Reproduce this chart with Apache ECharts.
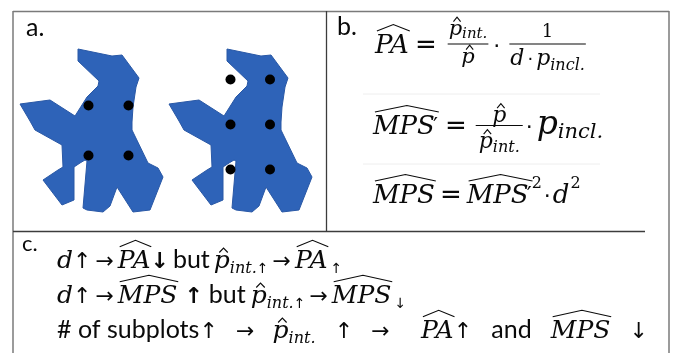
<!DOCTYPE html>
<html>
<head>
<meta charset="utf-8">
<script src="https://cdn.jsdelivr.net/npm/echarts@6/dist/echarts.min.js"></script>
<style>
  html, body { margin: 0; padding: 0; background: #ffffff; }
  #chart { width: 675px; height: 353px; }
</style>
</head>
<body>
<div id="chart"></div>
<script>
// ---- data ---------------------------------------------------------------
// Outline of the stand (same shape for both sampling designs), in page units
const standOutline = [
  [78, 49], [112, 56], [122, 55], [139, 78], [136, 87], [133, 107], [132, 122],
  [132, 130], [148, 163], [158, 168], [163, 177], [150, 210], [133, 212],
  [117, 187], [110, 206], [103, 212], [87, 210], [83, 208], [87, 161], [85, 160],
  [80, 163], [74, 167], [74, 200], [62, 205], [43, 180], [58, 170], [63, 167],
  [62, 145], [35, 130], [30, 121], [20, 104], [50, 100], [75, 116], [87, 97],
  [98, 86], [99, 81], [78, 61]
];
// Horizontal placement of the two copies of the stand
const standShiftX = [0, 149];
// Subplot centres: coarse grid (left) and denser grid (right)
const subplotsCoarse = [[88.5, 105.5], [128.5, 105.5], [88.5, 155.5], [128.5, 155.5]];
const subplotsDense = [[230.5, 79.5], [270, 79.5], [230.5, 124.5], [270, 124.5], [230.5, 169.5], [270, 169.5]];
const panelLabels = ['a.', 'b.', 'c.'];
const wordsC = ['but', 'but', '# of subplots', 'and'];

// ---- text layout helpers -------------------------------------------------
const INK = '#0a0a0a';
const ctx = document.createElement('canvas').getContext('2d');
function textW(s, f) { ctx.font = f; return ctx.measureText(s).width; }
const offCache = {};
function baseOff(f) {
  if (f in offCache) return offCache[f];
  ctx.font = f;
  ctx.textBaseline = 'alphabetic';
  const a = ctx.measureText('Hxp').actualBoundingBoxAscent;
  ctx.textBaseline = 'middle';
  const b = ctx.measureText('Hxp').actualBoundingBoxAscent;
  ctx.textBaseline = 'alphabetic';
  return (offCache[f] = a - b);
}
const G = [];
function putText(s, x, yb, f) {
  G.push({
    type: 'text', silent: true, z: 10,
    style: { text: s, x: x, y: yb - baseOff(f), font: f, fill: INK,
      textAlign: 'left', textVerticalAlign: 'middle', align: 'left', verticalAlign: 'middle' }
  });
}
function putLine(x1, y1, x2, y2, c, w) {
  G.push({ type: 'line', silent: true, z: 10, shape: { x1, y1, x2, y2 }, style: { stroke: c, lineWidth: w } });
}
function putHat(x0, x1, yTop, h, w) {
  G.push({
    type: 'polyline', silent: true, z: 10,
    shape: { points: [[x0, yTop + h], [(x0 + x1) / 2, yTop], [x1, yTop + h]] },
    style: { stroke: INK, lineWidth: w || 1.2, fill: null, lineJoin: 'miter' }
  });
}
// lay out a row of tokens from x on baseline yb; returns the width
// (stretch = extra width per unit added to the spaces marked j)
function run(items, x, yb, draw, stretch) {
  let cx = x;
  stretch = stretch || 0;
  for (const it of items) {
    if (it.g !== undefined) { cx += it.g + (it.j || 0) * stretch; continue; }
    if (it.hat) {
      const x0 = cx;
      cx += run(it.hat, cx, yb, draw);
      if (draw) putHat(x0 + it.sk + it.pl, cx + it.sk - it.pr, yb + it.top, it.h, it.lw);
      continue;
    }
    if (it.frac) {
      const wn = run(it.num, 0, 0, false), wd = run(it.den, 0, 0, false);
      const w = Math.max(wn, wd) + 2 * it.pad;
      if (draw) {
        putLine(cx, yb + it.bar, cx + w, yb + it.bar, INK, 1.1);
        run(it.num, cx + (w - wn) / 2, yb + it.nd, true);
        run(it.den, cx + (w - wd) / 2, yb + it.dd, true);
      }
      cx += w;
      continue;
    }
    if (draw) putText(it.s, cx, yb + (it.dy || 0), it.f);
    cx += textW(it.s, it.f);
  }
  return cx - x;
}
// justified line: widen the marked spaces so the line ends at xEnd
function runJustified(items, x, yb, xEnd) {
  const natural = run(items, x, yb, false, 0);
  const n = items.reduce((s, it) => s + (it.j || 0), 0);
  const extra = n ? Math.max(0, (xEnd - x - natural) / n) : 0;
  run(items, x, yb, true, extra);
}

const M = fs => 'italic ' + fs + 'px "DejaVu Serif"';
const R = fs => fs + 'px "DejaVu Serif"';
const OP = fs => fs + 'px "DejaVu Sans"';
const OPB = fs => 'bold ' + fs + 'px "DejaVu Sans"';
const SANS = fs => fs + 'px Lato';
const t = (s, f, dy) => ({ s, f, dy: dy || 0 });
const g = n => ({ g: n });
const sp = (n, k) => ({ g: n, j: k || 1 });
// wide hat over capital letters (optionally with a prime under the same hat)
function capHat(str, fs, prime) {
  const cap = 0.73 * fs;
  const body = [t(str, M(fs))];
  if (prime) { body.push(g(-2)); body.push(t('′', R(Math.round(fs * 0.85)), -1)); }
  return { hat: body, top: -(cap + 3 + 6.5), h: 6.5, sk: 0.1 * cap, pl: 0, pr: 1, lw: 1.15 };
}
// small hat over an italic p
function pHat(fs) {
  const xh = 0.52 * fs;
  return { hat: [t('p', M(fs))], top: -(xh + 2.5 + 4.5), h: 4.5, sk: 1, pl: 0.18 * fs, pr: 0.12 * fs, lw: 1.1 };
}
const frac = (num, den, nd, dd, bar, pad) => ({ frac: true, num, den, nd, dd, bar, pad: pad || 2 });

// ---- panel b: estimators --------------------------------------------------
const eqPA = [
  capHat('PA', 26), g(6), t('=', OP(26)), g(11),
  frac([pHat(21), t('int.', M(15), 3)], [pHat(21)], -18, 10, -9, 1),
  g(5), t('·', OP(22)), g(9),
  frac([t('1', R(18))], [t('d', M(22)), g(3), t('·', OP(18)), g(3), t('p', M(22)), t('incl.', M(16), 5)], -16, 12, -9, 1)
];
const eqMPSp = [
  capHat('MPS', 26, true), g(7), t('=', OP(26)), g(9),
  frac([pHat(22)], [pHat(22), t('int.', M(16), 4)], -12, 14, -8.5, 3),
  g(3), t('·', OP(22)), g(4),
  t('p', M(33)), t('incl.', M(21), 4)
];
const eqMPS = [
  capHat('MPS', 26), g(5), t('=', OP(26)), g(5),
  capHat('MPS', 26, true), g(0), t('2', R(16), -15), g(2), t('·', OP(22)), g(2),
  t('d', M(26)), g(1), t('2', R(16), -15)
];

// ---- panel c: effects --------------------------------------------------
const rowC1 = [
  t('d', M(25)), t('↑', OP(22)), g(4), t('→', OP(22)), g(4),
  capHat('PA', 25), t('↓', OPB(22)), g(4), t(wordsC[0], SANS(25)), g(4),
  pHat(25), t('int.', M(16), 5), t('↑', OP(14), 5), g(4), t('→', OP(22)), g(4),
  capHat('PA', 25), g(3), t('↑', OP(14), 5)
];
const rowC2 = [
  t('d', M(25)), t('↑', OP(22)), g(4), t('→', OP(22)), g(4),
  capHat('MPS', 25), g(7), t('↑', OPB(22)), g(6), t(wordsC[1], SANS(25)), g(5),
  pHat(25), t('int.', M(16), 5), t('↑', OP(14), 5), g(4), t('→', OP(22)), g(4),
  capHat('MPS', 25), g(3), t('↓', OP(14), 5)
];
const rowC3 = [
  t(wordsC[2], SANS(25)), t('↑', OP(22)), sp(4), t('→', OP(22)), sp(4),
  pHat(25), t('int.', M(16), 5), sp(5), t('↑', OP(22)), sp(4), t('→', OP(22)), sp(10, 1.5),
  capHat('PA', 25), t('↑', OP(22)), sp(5), t(wordsC[3], SANS(25)), sp(5),
  capHat('MPS', 25), sp(5), t('↓', OP(22))
];

// ---- frame and panel labels ----------------------------------------------
const FRAME = '#7a7a7a', RULE = '#3c3c3c';
putLine(13, 11.5, 669, 11.5, FRAME, 1.5);
putLine(13, 11, 13, 353, FRAME, 1.5);
putLine(669, 11, 669, 353, FRAME, 1.5);
putLine(326.5, 11, 326.5, 231.5, RULE, 1.3);
putLine(13, 231.5, 645, 231.5, RULE, 1.3);
putLine(363, 94, 600, 94, '#eeeeee', 1);
putLine(363, 164, 600, 164, '#eeeeee', 1);

putText(panelLabels[0], 26, 36, SANS(25));
putText(panelLabels[1], 337, 35, SANS(25));
putText(panelLabels[2], 22, 251, SANS(22));

run(eqPA, 375, 53, true);
run(eqMPSp, 373, 134, true);
run(eqMPS, 373, 203, true);
run(rowC1, 57, 268, true);
run(rowC2, 57, 303, true);
runJustified(rowC3, 57, 338, 648);

// ---- chart ------------------------------------------------------------------
const chart = echarts.init(document.getElementById('chart'), null, { renderer: 'canvas' });
chart.setOption({
  animation: false,
  backgroundColor: '#ffffff',
  grid: { left: 0, top: 0, right: 0, bottom: 0 },
  xAxis: { type: 'value', min: 0, max: 675, show: false },
  yAxis: { type: 'value', min: 0, max: 353, inverse: true, show: false },
  graphic: { elements: G },
  series: [
    {
      type: 'custom',
      coordinateSystem: 'cartesian2d',
      silent: true,
      data: standShiftX.map((dx, i) => [dx, i]),
      renderItem: function (params, api) {
        const dx = standShiftX[params.dataIndex];
        const pts = standOutline.map(p => api.coord([p[0] + dx, p[1]]));
        return {
          type: 'polygon',
          shape: { points: pts },
          style: { fill: '#2e63b8', stroke: '#2958a6', lineWidth: 1 }
        };
      },
      z: 2
    },
    {
      type: 'scatter',
      silent: true,
      symbol: 'circle',
      symbolSize: 10,
      itemStyle: { color: '#000000', opacity: 1 },
      data: subplotsCoarse.concat(subplotsDense),
      z: 3
    }
  ]
});
</script>
</body>
</html>
